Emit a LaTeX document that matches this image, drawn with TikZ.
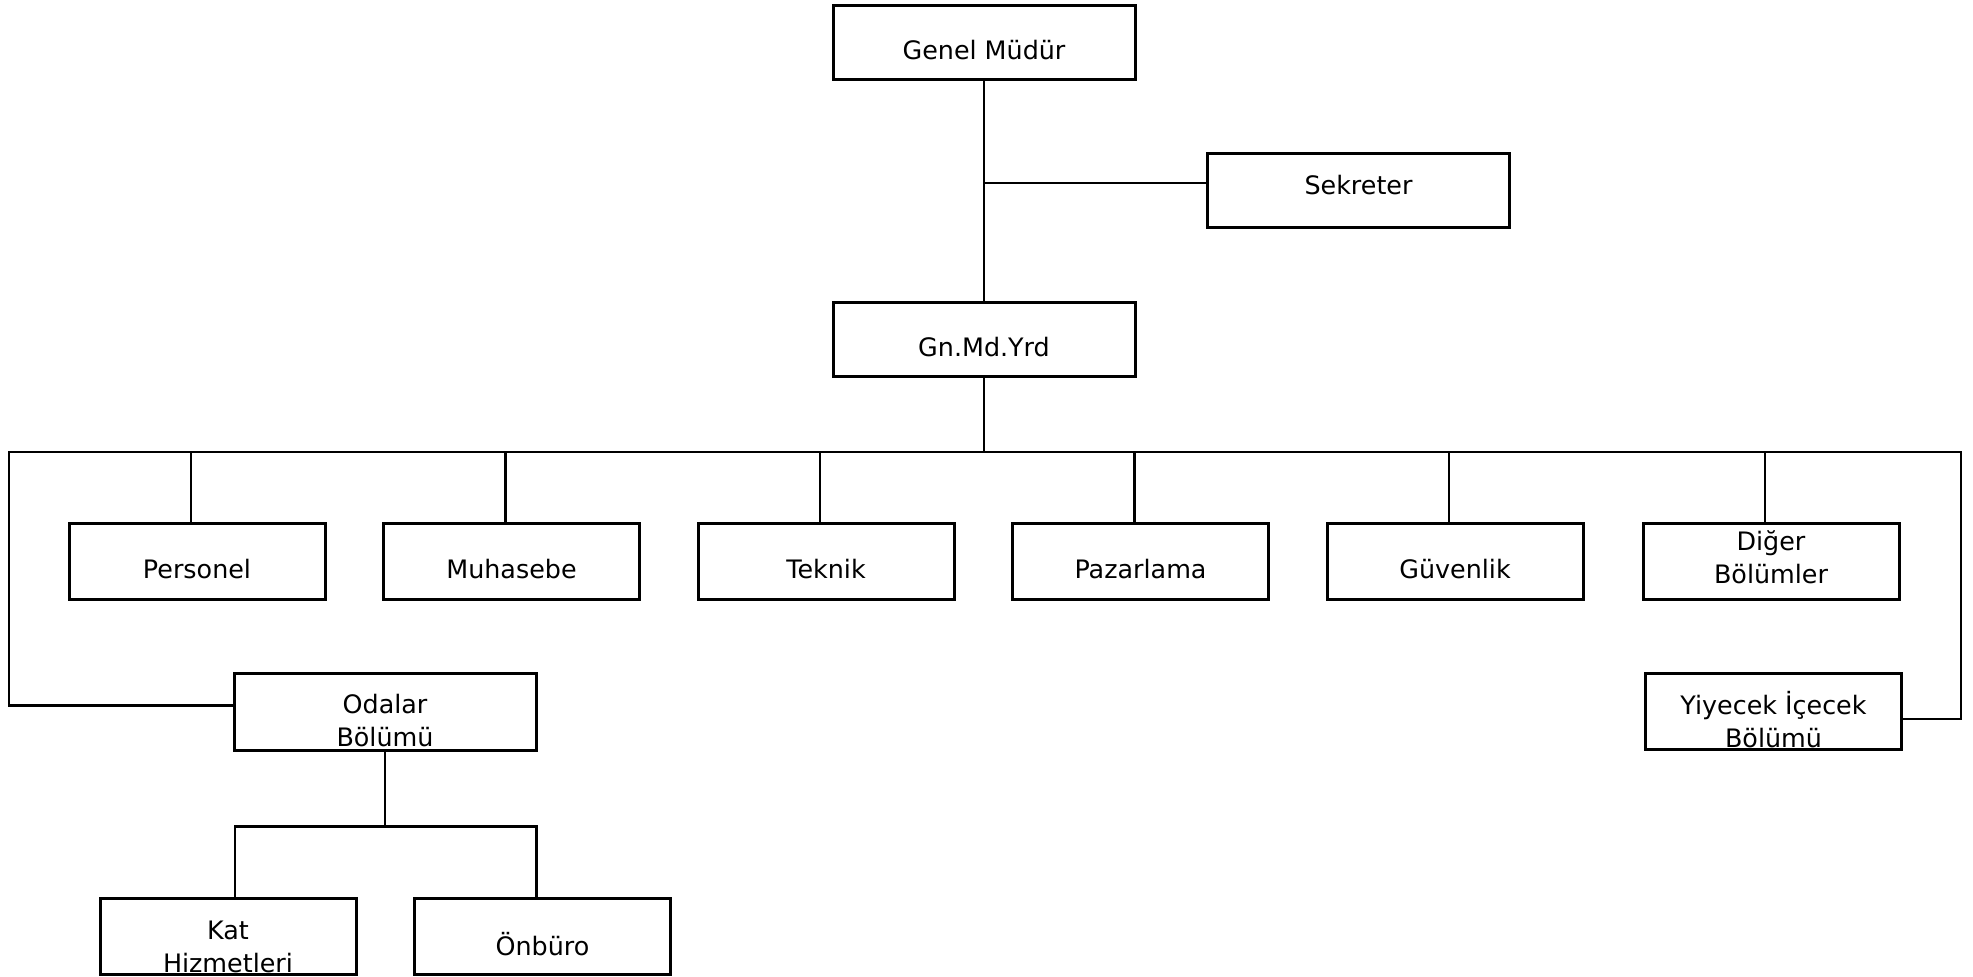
\documentclass[tikz,border=0pt]{standalone}
\usepackage{fontspec}
\setmainfont{DejaVu Sans}
\usetikzlibrary{positioning}

\begin{document}
\begin{tikzpicture}[
    x=0.5pt, y=-0.5pt,
    every node/.style={font=\fontsize{12.7}{16.5}\selectfont},
    unit/.style={rectangle,draw,line width=1.5pt,minimum width=128pt,
                 minimum height=38pt,inner sep=0pt},
    wideunit/.style={unit,minimum width=151pt,minimum height=37pt},
    txt/.style={align=center,inner sep=0pt},
    link/.style={line width=1.1pt},
    drop/.style={xshift=-3pt}
  ]
  \useasboundingbox (0,0) rectangle (1973,976);

  % top of the chart
  \node[wideunit] (gm)  at (984,42)     {};
  \node[wideunit] (sek) at (1358.5,190) {};
  \node[wideunit] (gn)  at (984,339)    {};
  \node[txt] (gm-t)  at ([yshift=-4pt]gm.center)  {Genel Müdür};
  \node[txt] (sek-t) at ([yshift=2.5pt]sek.center) {Sekreter};
  \node[txt] (gn-t)  at ([yshift=-4pt]gn.center)  {Gn.Md.Yrd};

  % departments
  \node[unit] (pers)  at (197,561)    {};
  \node[unit] (muh)   at (511.5,561)  {};
  \node[unit] (tek)   at (826,561)    {};
  \node[unit] (paz)   at (1140.5,561) {};
  \node[unit] (guv)   at (1455,561)   {};
  \node[unit] (diger) at (1771,561)   {};
  \node[txt] (pers-t)  at ([yshift=-4pt]pers.center)  {Personel};
  \node[txt] (muh-t)   at ([yshift=-4pt]muh.center)   {Muhasebe};
  \node[txt] (tek-t)   at ([yshift=-4pt]tek.center)   {Teknik};
  \node[txt] (paz-t)   at ([yshift=-4pt]paz.center)   {Pazarlama};
  \node[txt] (guv-t)   at ([yshift=-4pt]guv.center)   {Güvenlik};
  \node[txt] (diger-t) at ([yshift=2pt]diger.center)  {Diğer\\Bölümler};

  \node[wideunit,minimum height=38.5pt] (odalar) at (385,711.5) {};
  \node[unit] (yiyecek) at (1773.5,711) {};
  \node[txt] (odalar-t)  at ([yshift=-4.5pt]odalar.center)  {Odalar\\Bölümü};
  \node[txt] (yiyecek-t) at ([yshift=-4.5pt]yiyecek.center) {Yiyecek İçecek\\Bölümü};

  \node[unit] (kat)    at (228,936)   {};
  \node[unit] (onburo) at (542.5,936) {};
  \node[txt] (kat-t)    at ([yshift=-5.5pt]kat.center)  {Kat\\Hizmetleri};
  \node[txt] (onburo-t) at ([yshift=-4pt]onburo.center) {Önbüro};

  % connectors
  \coordinate (bus)  at (984,452);
  \coordinate (busL) at (9,452);
  \coordinate (busR) at (1961,452);
  \coordinate[below=37.5pt of odalar.south] (sub);

  \draw[link] (gm) -- (gn);
  \draw[link] ([yshift=3.5pt]gm.south |- sek.west) -- ([yshift=3.5pt]sek.west);
  \draw[link] (gn) -- (bus);
  \draw[link] ([yshift=3pt]odalar.west) -| (busL) -- (busR) |- ([yshift=-4pt]yiyecek.east);
  \draw[link] ([drop]pers.north)  -- ([drop]pers.north |- busL);
  \draw[link] ([drop]muh.north)   -- ([drop]muh.north |- busL);
  \draw[link] ([drop]tek.north)   -- ([drop]tek.north |- busL);
  \draw[link] ([drop]paz.north)   -- ([drop]paz.north |- busL);
  \draw[link] ([drop]guv.north)   -- ([drop]guv.north |- busL);
  \draw[link] ([drop]diger.north) -- ([drop]diger.north |- busL);
  \draw[link] (odalar) -- (sub);
  \draw[link] ([xshift=3.5pt]kat.north) |- (sub) -| ([xshift=-3pt]onburo.north);
\end{tikzpicture}
\end{document}
